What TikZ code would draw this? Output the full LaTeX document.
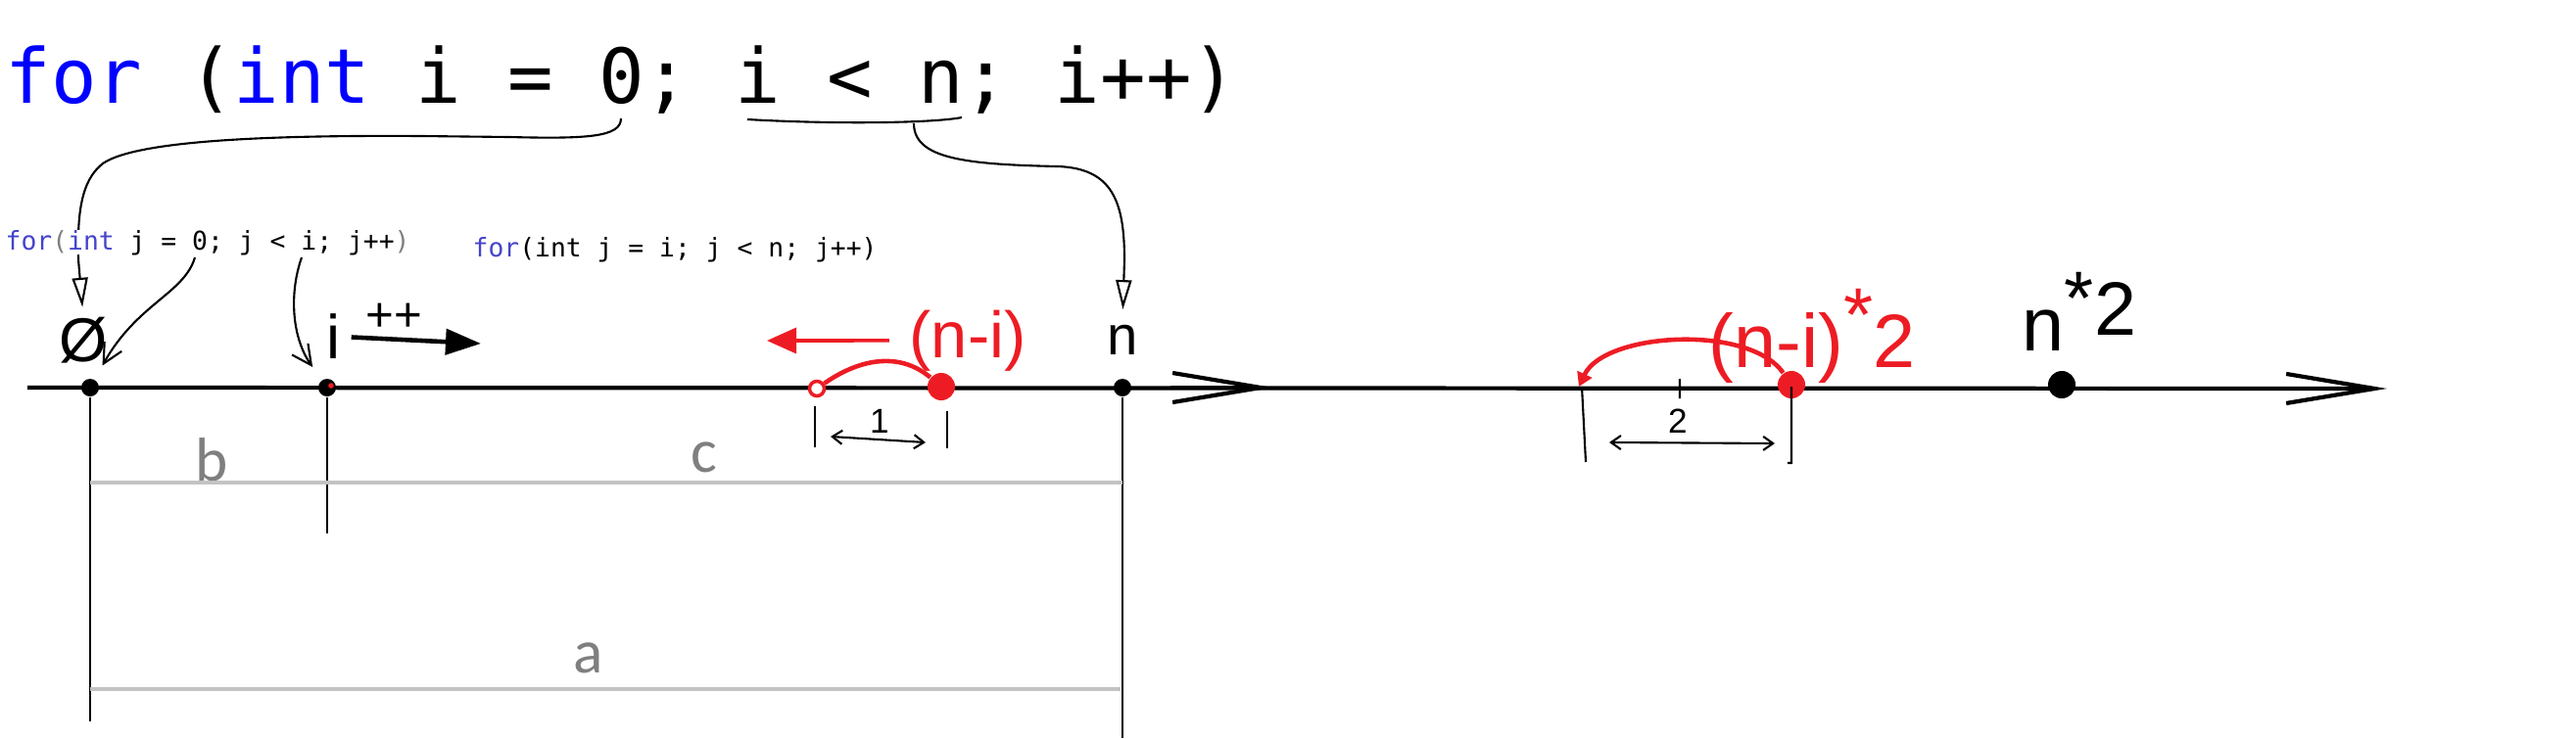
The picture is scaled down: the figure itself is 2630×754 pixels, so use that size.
\documentclass[tikz,border=0pt]{standalone}
\usepackage{fontspec}
\setmainfont{Liberation Sans}
\newfontfamily\codefont{DejaVu Sans Mono}
\newfontfamily\dimfont{Carlito}
\usetikzlibrary{arrows.meta,positioning,backgrounds}
\definecolor{codeblue}{RGB}{0,0,255}
\definecolor{loopblue}{RGB}{68,68,204}
\definecolor{parengray}{RGB}{128,128,128}
\definecolor{paintred}{RGB}{237,28,36}
\definecolor{dimline}{RGB}{195,195,195}
\definecolor{dimtext}{RGB}{127,127,127}

\begin{document}
\begin{tikzpicture}[x=0.01cm,y=0.01cm,on grid,inner sep=0pt,
  axisdot/.style={circle,fill=black,minimum size=0.18cm},
  bigdot/.style={circle,fill=#1,minimum size=0.28cm},
  bigdot/.default=black,
  ring/.style={circle,draw=paintred,fill=white,line width=1pt,minimum size=0.15cm},
  axis/.style={line width=1.2pt},
  hand/.style={line width=0.6pt},
  redhand/.style={draw=paintred,line width=1.3pt},
  hair/.style={line width=0.3pt},
  dimgray/.style={draw=dimline,line width=0.9pt},
  dimlbl/.style={text=dimtext,font=\dimfont\fontsize{18}{18}\selectfont},
  lbl/.style={font=\fontsize{#1}{#1}\selectfont},
  opentip/.tip={Triangle[open,length=0.3cm,width=0.16cm]},
  barb/.tip={Straight Barb[length=0.2cm,width=0.2cm]},
  smallbarb/.tip={Straight Barb[length=0.1cm,width=0.14cm]},
  axistip/.tip={Straight Barb[length=0.9cm,width=0.3cm]}]
  \useasboundingbox (0,0) rectangle (2630,-754);
  \coordinate (ax_l) at (28,-396);
  \coordinate (ax_r) at (2437,-397);
  \coordinate (zero_i) at (634,-121);
  \coordinate (under_l) at (763,-122);
  \coordinate (under_r) at (982,-120);
  \coordinate (under_m) at (933,-126);
  \coordinate (j_zero) at (199,-263);
  \coordinate (j_i) at (308,-263);
  \coordinate (inc_tip) at (491,-351);
  \coordinate (red_tip) at (783,-348);
  \coordinate (red_tip2) at (1612,-395);
  \draw[axis,-axistip] (ax_l) -- (ax_r);
  \draw[axis,-axistip] (1195,-396) -- (1300,-396);
  \path
  node[anchor=base west] (loop_i) at (5,-105) {\codefont\fontsize{22}{22}\selectfont\textcolor{codeblue}{for} (\textcolor{codeblue}{int} i = 0; i < n; i++)}
  node[anchor=base west,fill=white] (loop_j0) at (5,-255) {\codefont\fontsize{7.5}{7.5}\selectfont\textcolor{loopblue}{for}\textcolor{parengray}{(}\textcolor{loopblue}{int} j = 0; j < i; j++\textcolor{parengray}{)}}
  node[anchor=base west] (loop_jn) at (482,-262) {\codefont\fontsize{7.5}{7.5}\selectfont\textcolor{loopblue}{for}(int j = i; j < n; j++)}
  node[axisdot] (p_0) at (92,-396) {}
  node[axisdot] (p_i) at (334,-396) {}
  node[axisdot] (p_n) at (1146,-396) {}
  node[ring] (o_1) at (834,-397) {}
  node[bigdot=paintred] (r_1) at (961,-395) {}
  node[bigdot=paintred] (r_2) at (1829,-393) {}
  node[bigdot] (p_2n) at (2105,-393) {}
  node[lbl=18] (l_0) [above=0.48cm of p_0,xshift=-0.07cm] {Ø}
  node[lbl=18] (l_i) [above=0.52cm of p_i,xshift=0.07cm] {i}
  node[lbl=14] (l_inc) at (402,-324) {++}
  node[lbl=16] (l_n) [above=0.49cm of p_n] {n}
  node[lbl=19,text=paintred] (l_nmi) [above=0.47cm of r_1,xshift=0.27cm] {(n-i)}
  node[lbl=22,text=paintred] (l_nmi2) [above=0.5cm of r_2,xshift=0.21cm] {(n-i)\raisebox{0.35em}{*}2}
  node[lbl=22] (l_n2) [above=0.75cm of p_2n,xshift=0.18cm] {n\raisebox{0.35em}{*}\raisebox{0.2em}{2}}
  node[lbl=10] (l_1) at (898,-430) {1}
  node[lbl=10] (l_2) at (1713,-430) {2}
  node[dimlbl] (d_b) at (216,-470) {b}
  node[dimlbl] (d_c) at (719,-467) {c}
  node[dimlbl] (d_a) at (601,-672) {a}
  ;
  \fill[paintred] (338,-394) circle (0.8pt);
  \begin{scope}[on background layer]
    \draw[hand,-opentip,shorten >=0.1cm] (zero_i) .. controls (634,-140) and (600,-142) .. (520,-140) -- (430,-139) .. controls (280,-138) and (140,-143) .. (105,-167) .. controls (82,-185) and (79,-220) .. (80,-265) -- (l_0.north);
  \end{scope}
  \draw[hand] (under_l) .. controls (850,-127) and (950,-126) .. (under_r);
  \draw[hand,-opentip,shorten >=0.15cm] (under_m) .. controls (933,-162) and (985,-168) .. (1080,-170) .. controls (1135,-172) and (1148,-205) .. (1148,-265) -- (l_n.north);
  \draw[hand,-barb,shorten >=0.16cm] (j_zero) .. controls (188,-300) and (140,-310) .. (p_0);
  \draw[hand,-barb,shorten >=0.16cm] (j_i) .. controls (295,-300) and (298,-345) .. (p_i);
  \draw[line width=1.3pt,-{Triangle[length=0.36cm,width=0.26cm]},shorten <=0.1cm] (l_i.east) -- (inc_tip);
  \draw[paintred,line width=1pt,-{Triangle[length=0.3cm,width=0.26cm]},shorten <=0.2cm] (l_nmi.west) -- (red_tip);
  \draw[redhand] (r_1) to[out=140,in=35] (o_1);
  \draw[redhand,-{Triangle[length=0.14cm,width=0.16cm]}] (r_2) to[out=125,in=65,looseness=0.75] (red_tip2);
  \draw[hand] (832,-415) -- (832,-457) (967,-420) -- (967,-458);
  \draw[hand,smallbarb-smallbarb] (848,-446) -- (945,-452);
  \draw[hand] (1615,-395) -- (1619,-472) (1829,-395) -- (1829,-473) -- (1825,-473) (1715,-387) -- (1715,-407);
  \draw[hand,smallbarb-smallbarb] (1643,-452) -- (1812,-453);
  \draw[hair] (p_0) -- (92,-737);
  \draw[hair] (p_i) -- (334,-545);
  \draw[hand] (p_n) -- (1146,-754);
  \draw[dimgray] (92,-493) -- (1146,-493) (92,-704) -- (1144,-704);
\end{tikzpicture}
\end{document}
